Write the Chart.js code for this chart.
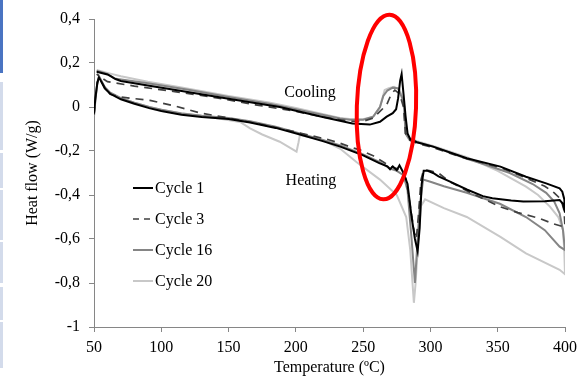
<!DOCTYPE html>
<html>
<head>
<meta charset="utf-8">
<title>Heat flow cycles</title>
<script src="https://cdn.jsdelivr.net/npm/chart.js@4/dist/chart.umd.min.js"></script>
<style>
  html, body { margin: 0; padding: 0; background: #fff; }
  #wrap { position: relative; width: 577px; height: 377px; }
  #myChart { position: absolute; left: 0; top: 0; }
  .strip { position: absolute; left: 0; width: 3px; background: #d3dbeb; }
</style>
</head>
<body>
<div id="wrap">
  <canvas id="myChart" width="577" height="377"></canvas>
  <div class="strip" style="top:0;height:73px;background:#4a74c2"></div>
  <div class="strip" style="top:82px;height:68px"></div>
  <div class="strip" style="top:153px;height:35px"></div>
  <div class="strip" style="top:190px;height:50px"></div>
  <div class="strip" style="top:242px;height:41px"></div>
  <div class="strip" style="top:287px;height:33px"></div>
  <div class="strip" style="top:322px;height:46px"></div>
</div>
<script>
// tick labels
const xTicks = [50, 100, 150, 200, 250, 300, 350, 400];
const yTicks = [-1, -0.8, -0.6, -0.4, -0.2, 0, 0.2, 0.4];

// Cycle 1 - heating then cooling
const c1HeatT = [50, 51, 52.5, 53.7, 55, 58, 62, 70, 80, 91, 100, 115, 130, 150, 166, 185, 203, 220, 233, 250, 262, 268, 270, 272, 275, 277, 280, 283, 286, 288.5, 290.5, 292, 293.5, 295, 298, 302, 306, 315, 327, 339, 346, 360, 369, 385, 396, 398.5, 400];
const c1HeatQ = [-0.03, 0.04, 0.11, 0.135, 0.12, 0.085, 0.06, 0.035, 0.015, -0.005, -0.018, -0.035, -0.045, -0.055, -0.07, -0.095, -0.125, -0.155, -0.18, -0.22, -0.255, -0.27, -0.283, -0.27, -0.287, -0.265, -0.3, -0.35, -0.5, -0.6, -0.655, -0.55, -0.35, -0.29, -0.29, -0.3, -0.315, -0.34, -0.375, -0.405, -0.415, -0.425, -0.43, -0.428, -0.423, -0.44, -0.48];
const c1CoolT = [400, 399.5, 398, 396, 386, 371, 352, 327, 302, 290, 285, 283, 281.5, 280, 278.6, 277.5, 276, 274.5, 272, 267.5, 262.5, 255, 242, 220, 188, 150, 114, 90, 70, 66, 63, 60, 52];
const c1CoolQ = [-0.48, -0.42, -0.385, -0.37, -0.347, -0.317, -0.271, -0.233, -0.18, -0.16, -0.146, -0.12, -0.04, 0.06, 0.15, 0.12, 0.04, -0.01, -0.028, -0.044, -0.067, -0.08, -0.075, -0.045, 0.0, 0.038, 0.074, 0.098, 0.118, 0.127, 0.138, 0.148, 0.16];

// Cycle 3
const c3HeatT = [50, 51, 52.5, 53.7, 55, 58, 62, 70, 80, 91.6, 110, 128.8, 150, 175, 203, 225, 233, 242, 247.6, 257, 265, 270, 275, 279, 282, 285, 288, 289.5, 291, 293, 295, 300, 306, 314.5, 330, 351.6, 365, 381, 391, 398.6, 400];
const c3HeatQ = [-0.035, 0.04, 0.11, 0.135, 0.12, 0.09, 0.058, 0.045, 0.038, 0.03, 0.005, -0.027, -0.05, -0.08, -0.118, -0.15, -0.165, -0.185, -0.195, -0.22, -0.25, -0.27, -0.28, -0.29, -0.33, -0.45, -0.57, -0.6, -0.5, -0.33, -0.285, -0.29, -0.3, -0.34, -0.39, -0.453, -0.48, -0.506, -0.53, -0.544, -0.545];
const c3CoolT = [400, 399.3, 397, 392, 385, 370, 352, 327, 302, 290, 284, 281.5, 280, 277, 273.6, 271, 267.5, 262.5, 257.5, 250, 240, 220, 200, 170, 136, 110, 80, 65, 60, 55, 52];
const c3CoolQ = [-0.545, -0.47, -0.42, -0.39, -0.36, -0.32, -0.275, -0.235, -0.185, -0.165, -0.15, -0.12, 0.0, 0.06, 0.077, 0.06, 0.01, -0.02, -0.05, -0.065, -0.065, -0.045, -0.02, 0.01, 0.047, 0.07, 0.095, 0.11, 0.115, 0.135, 0.15];

// Cycle 16
const c16HeatT = [50, 51, 52.5, 53.7, 55, 58, 62, 70, 80, 91, 100, 115, 130, 150, 166, 185, 203, 220, 233, 250, 262, 270, 275, 280, 283, 286, 288.5, 290, 292, 294.6, 300, 310, 327, 351.6, 371, 385, 396, 400];
const c16HeatQ = [-0.04, 0.03, 0.11, 0.14, 0.125, 0.09, 0.065, 0.04, 0.02, 0.0, -0.012, -0.03, -0.04, -0.05, -0.065, -0.09, -0.12, -0.15, -0.175, -0.215, -0.25, -0.28, -0.29, -0.31, -0.38, -0.6, -0.8, -0.65, -0.45, -0.33, -0.34, -0.36, -0.39, -0.44, -0.5, -0.56, -0.635, -0.65];
const c16CoolT = [400, 398.5, 396, 392, 386, 376, 359, 340, 327, 302, 290, 284, 281.5, 280.5, 279, 276, 272, 268, 265, 262.5, 257.5, 250, 240, 232.8, 200, 180, 150, 120, 90, 65, 60, 52];
const c16CoolQ = [-0.65, -0.56, -0.483, -0.43, -0.39, -0.35, -0.3, -0.26, -0.235, -0.18, -0.16, -0.145, -0.12, 0.0, 0.04, 0.085, 0.088, 0.075, 0.05, 0.0, -0.044, -0.058, -0.058, -0.052, -0.01, 0.015, 0.045, 0.078, 0.108, 0.13, 0.15, 0.165];

// Cycle 20
const c20HeatT = [50, 51, 52.5, 53.7, 55, 58, 62, 70, 80, 91, 100, 115, 130, 145, 158.5, 166, 175, 188, 200.5, 202, 203, 220, 233, 245, 262.5, 275, 282, 285, 287.7, 289, 291, 293, 296, 310, 327, 352, 371, 396, 400];
const c20HeatQ = [-0.04, 0.03, 0.11, 0.14, 0.125, 0.09, 0.065, 0.04, 0.02, 0.0, -0.012, -0.028, -0.04, -0.055, -0.068, -0.097, -0.125, -0.158, -0.203, -0.16, -0.127, -0.15, -0.19, -0.25, -0.33, -0.4, -0.5, -0.65, -0.89, -0.8, -0.6, -0.45, -0.42, -0.46, -0.5, -0.59, -0.665, -0.74, -0.76];
const c20CoolT = [400, 399.5, 398.6, 395, 388.8, 380, 371, 350, 327, 302, 290, 284, 281.5, 280, 277, 273, 269, 266, 262.5, 257.5, 250, 240, 232.8, 200, 180, 150, 114, 90, 70, 60, 52];
const c20CoolQ = [-0.76, -0.66, -0.56, -0.5, -0.453, -0.4, -0.362, -0.29, -0.228, -0.177, -0.155, -0.14, -0.12, 0.03, 0.08, 0.092, 0.085, 0.077, 0.0, -0.044, -0.056, -0.055, -0.05, -0.005, 0.02, 0.05, 0.09, 0.115, 0.14, 0.155, 0.168];

const cycleNames = ['Cycle 1', 'Cycle 3', 'Cycle 16', 'Cycle 20'];

function loop(heatT, heatQ, coolT, coolQ) {
  const pts = heatT.map((t, i) => ({ x: t, y: heatQ[i] }));
  coolT.forEach((t, i) => pts.push({ x: t, y: coolQ[i] }));
  return pts;
}

const serif = "'Liberation Serif', 'Times New Roman', serif";
Chart.defaults.font.family = serif;
Chart.defaults.font.size = 16;
Chart.defaults.color = '#000';

// legend drawn inside the plot, plus the two labels and the red ellipse
const extras = {
  id: 'extras',
  afterDraw(chart) {
    const ctx = chart.ctx;
    const xs = chart.scales.x;
    const ys = chart.scales.y;

    ctx.save();
    ctx.font = '16px ' + serif;
    ctx.fillStyle = '#000';
    ctx.textAlign = 'center';
    ctx.textBaseline = 'middle';
    ctx.fillText('Cooling', xs.getPixelForValue(210.5), ys.getPixelForValue(0.064));
    ctx.fillText('Heating', xs.getPixelForValue(211.2), ys.getPixelForValue(-0.336));

    // red ellipse
    const cx = xs.getPixelForValue(267.3);
    const cy = ys.getPixelForValue(0.0);
    const rx = xs.getPixelForValue(267.3 + 22) - cx;
    const ry = cy - ys.getPixelForValue(0.42);
    ctx.strokeStyle = '#ff0000';
    ctx.lineWidth = 4;
    ctx.beginPath();
    ctx.ellipse(cx, cy, rx, ry, 0.035, 0, Math.PI * 2);
    ctx.stroke();

    // legend
    ctx.textAlign = 'left';
    chart.data.datasets.forEach(function(ds, i) {
      const y = 188 + i * 31;
      ctx.strokeStyle = ds.borderColor;
      ctx.lineWidth = ds.borderWidth;
      ctx.setLineDash(ds.borderDash ? [6, 5] : []);
      ctx.beginPath();
      ctx.moveTo(133, y);
      ctx.lineTo(153, y);
      ctx.stroke();
      ctx.setLineDash([]);
      ctx.fillText(ds.label, 155, y + 1);
    });
    ctx.restore();
  }
};

const ctx = document.getElementById('myChart').getContext('2d');
const myChart = new Chart(ctx, {
  type: 'scatter',
  data: {
    datasets: [
      {
        label: cycleNames[0],
        data: loop(c1HeatT, c1HeatQ, c1CoolT, c1CoolQ),
        borderColor: '#000000',
        borderWidth: 2,
      },
      {
        label: cycleNames[1],
        data: loop(c3HeatT, c3HeatQ, c3CoolT, c3CoolQ),
        borderColor: '#404040',
        borderWidth: 1.7,
        borderDash: [8, 6],
      },
      {
        label: cycleNames[2],
        data: loop(c16HeatT, c16HeatQ, c16CoolT, c16CoolQ),
        borderColor: '#858585',
        borderWidth: 2,
      },
      {
        label: cycleNames[3],
        data: loop(c20HeatT, c20HeatQ, c20CoolT, c20CoolQ),
        borderColor: '#c8c8c8',
        borderWidth: 2,
      },
    ],
  },
  options: {
    responsive: false,
    animation: false,
    devicePixelRatio: 1,
    showLine: true,
    elements: {
      point: { radius: 0, hoverRadius: 0 },
      line: { tension: 0, fill: false },
    },
    layout: {
      padding: { left: 0, right: 12, top: 19, bottom: 0 },
    },
    scales: {
      x: {
        type: 'linear',
        min: 50,
        max: 400,
        afterFit: function(scale) {
          scale.height = 50;
          scale.paddingLeft = 0;
          scale.paddingRight = 0;
        },
        afterBuildTicks: function(scale) {
          scale.ticks = xTicks.map(v => ({ value: v }));
        },
        ticks: {
          padding: 6,
          color: '#000',
          maxRotation: 0,
        },
        grid: {
          display: true,
          drawOnChartArea: false,
          drawTicks: true,
          tickLength: 5,
          color: '#868686',
        },
        border: { display: true, color: '#868686', width: 1 },
        title: {
          display: true,
          text: 'Temperature (ºC)',
          color: '#000',
          font: { size: 16 },
          padding: { top: 0, bottom: 0 },
        },
      },
      y: {
        min: -1,
        max: 0.4,
        afterFit: function(scale) {
          scale.width = 94;
          scale.paddingTop = 0;
          scale.paddingBottom = 0;
        },
        afterBuildTicks: function(scale) {
          scale.ticks = yTicks.map(v => ({ value: v }));
        },
        ticks: {
          padding: 9,
          color: '#000',
          callback: function(v) {
            return String(Math.round(v * 10) / 10).replace('.', ',');
          },
        },
        grid: {
          display: true,
          drawOnChartArea: false,
          drawTicks: true,
          tickLength: 5,
          color: '#868686',
        },
        border: { display: true, color: '#868686', width: 1 },
        title: {
          display: true,
          text: 'Heat flow (W/g)',
          color: '#000',
          font: { size: 16 },
          padding: { top: 23, bottom: 0 },
        },
      },
    },
    plugins: {
      legend: { display: false },
      tooltip: { enabled: false },
    },
  },
  plugins: [extras],
});
</script>
</body>
</html>
